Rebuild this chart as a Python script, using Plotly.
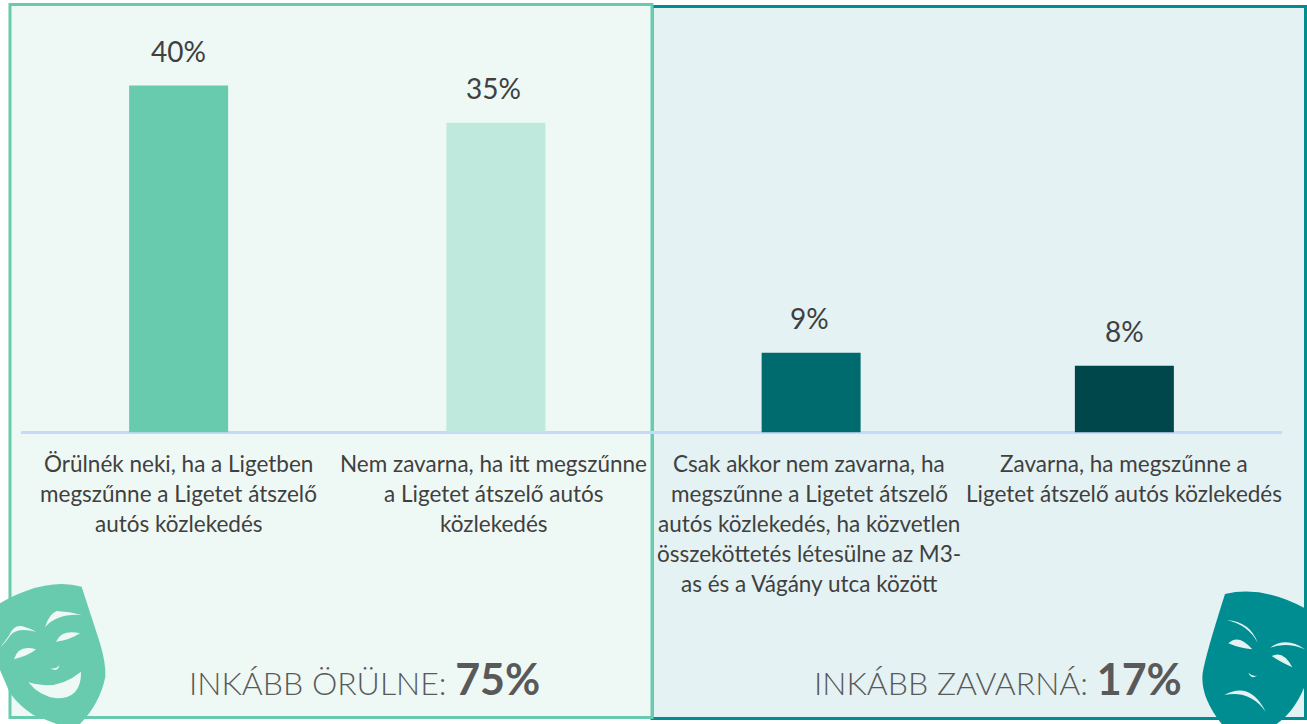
import plotly.graph_objects as go

W, H = 1307, 724
categories = ["A", "B", "C", "D"]
values = [40.0, 35.7, 9.2, 7.7]
value_labels = ["40%", "35%", "9%", "8%"]
bar_colors = ["#68CBAD", "#BEE9DC", "#006B6F", "#00474B"]
label_lines = [
    ["Örülnék neki, ha a Ligetben", "megszűnne a Ligetet átszelő", "autós közlekedés"],
    ["Nem zavarna, ha itt megszűnne", "a Ligetet átszelő autós", "közlekedés"],
    ["Csak akkor nem zavarna, ha", "megszűnne a Ligetet átszelő", "autós közlekedés, ha közvetlen",
     "összeköttetés létesülne az M3-", "as és a Vágány utca között"],
    ["Zavarna, ha megszűnne a", "Ligetet átszelő autós közlekedés"],
]
FONT = "Lato"
TXT = "#404040"
GREY = "#595959"
LEFT_BG, RIGHT_BG = "#EEF8F5", "#E4F2F3"
GREEN, TEAL = "#68CBAD", "#008D91"


def px(x):
    return x / W


def py(y):
    return 1 - y / H


def path(cmds, ox, oy, s=1 / 3):
    """cmds in zoom-crop pixels -> paper coordinates"""
    out = []
    for c in cmds:
        op, pts = c[0], c[1:]
        out.append(op + " ".join(f"{px(ox + a * s):.5f},{py(oy + b * s):.5f}" for a, b in pts))
    return " ".join(out) + " Z"


def mask(cmds, ox, oy, color):
    return dict(type="path", xref="paper", yref="paper", path=path(cmds, ox, oy),
                fillcolor=color, line=dict(width=0), layer="below")


def rect(x0, y0, x1, y1, fill, line):
    return dict(type="rect", xref="paper", yref="paper", x0=px(x0), x1=px(x1), y0=py(y0), y1=py(y1),
                fillcolor=fill, line=dict(color=line, width=3), layer="below")


happy_outline = [("M", (245, 50)), ("Q", (170, 30), (80, 62)), ("Q", (35, 78), (0, 100)), ("L", (0, 300)),
                 ("Q", (15, 335), (30, 370)), ("Q", (60, 410), (100, 435)), ("L", (170, 462)), ("L", (240, 462)),
                 ("Q", (300, 400), (316, 320)), ("Q", (318, 280), (300, 220))]
happy_holes = [
    [("M", (135, 172)), ("Q", (148, 130), (170, 123)), ("Q", (210, 125), (245, 135)), ("Q", (170, 130), (135, 172))],
    [("M", (2, 230)), ("Q", (15, 215), (28, 195)), ("Q", (40, 165), (65, 168)), ("Q", (90, 175), (108, 185)),
     ("Q", (50, 170), (30, 197)), ("Q", (15, 220), (2, 230))],
    [("M", (168, 215)), ("Q", (185, 178), (240, 190)), ("Q", (210, 210), (168, 215))],
    [("M", (42, 268)), ("Q", (55, 222), (108, 238)), ("Q", (90, 255), (42, 268))],
    [("M", (150, 295)), ("Q", (170, 298), (178, 285)), ("Q", (175, 308), (150, 295))],
    [("M", (85, 337)), ("Q", (170, 365), (243, 305)), ("Q", (245, 385), (170, 385)), ("Q", (120, 380), (85, 337))],
]
sad_outline = [("M", (135, 72)), ("Q", (250, 45), (381, 118)), ("L", (381, 330)), ("Q", (350, 420), (290, 462)),
               ("L", (125, 462)), ("Q", (60, 380), (68, 310)), ("Q", (75, 260), (135, 72))]
sad_holes = [
    [("M", (140, 150)), ("Q", (210, 155), (233, 218)), ("Q", (205, 165), (140, 150))],
    [("M", (270, 233)), ("Q", (320, 198), (375, 238)), ("Q", (320, 215), (270, 233))],
    [("M", (145, 220)), ("Q", (175, 190), (217, 238)), ("Q", (180, 235), (145, 220))],
    [("M", (275, 258)), ("Q", (310, 240), (337, 292)), ("Q", (300, 275), (275, 258))],
    [("M", (205, 308)), ("Q", (220, 322), (233, 316)), ("Q", (215, 330), (205, 308))],
    [("M", (133, 375)), ("Q", (210, 332), (257, 425)), ("Q", (210, 360), (133, 375))],
]

shapes = [
    rect(652, 6.5, 1305.5, 718.5, RIGHT_BG, TEAL),
    rect(10, 4.5, 652, 717.5, LEFT_BG, GREEN),
    mask(happy_outline, 0, 570, GREEN),
    mask(sad_outline, 1180, 570, TEAL),
]
shapes += [mask(h, 0, 570, LEFT_BG) for h in happy_holes]
shapes += [mask(h, 1180, 570, RIGHT_BG) for h in sad_holes]

BW = 0.314
nudge = 2 / 315.25
fig = go.Figure(go.Bar(x=categories, y=values, width=BW, offset=[-BW / 2, -BW / 2 + nudge, -BW / 2 + nudge, -BW / 2],
                       marker=dict(color=bar_colors, line=dict(width=0)), hoverinfo="skip"))

annotations = []
for c, v, t in zip(categories, values, value_labels):
    annotations.append(dict(x=c, y=v, xref="x", yref="y", text=t, showarrow=False, yshift=35, xanchor="center",
                            yanchor="middle", font=dict(family=FONT, size=28, color=TXT)))
for c, lines in zip(categories, label_lines):
    for i, line in enumerate(lines):
        annotations.append(dict(x=c, xref="x", y=py(463.5 + i * 29.9), yref="paper", text=line, showarrow=False,
                                xanchor="center", yanchor="middle", font=dict(family=FONT, size=22.5, color=TXT)))
annotations.append(dict(x=px(364.5), y=py(678), xref="paper", yref="paper", showarrow=False, yanchor="middle",
                        xanchor="center",
                        text='<span style="font-weight:300">INKÁBB ÖRÜLNE: </span><b style="font-size:43px">75%</b>',
                        font=dict(family=FONT, size=32, color=GREY)))
annotations.append(dict(x=px(997.5), y=py(678), xref="paper", yref="paper", showarrow=False, yanchor="middle",
                        xanchor="center",
                        text='<span style="font-weight:300">INKÁBB ZAVARNÁ: </span><b style="font-size:43px">17%</b>',
                        font=dict(family=FONT, size=32, color=GREY)))

fig.update_layout(
    width=W, height=H, margin=dict(l=0, r=0, t=0, b=0), paper_bgcolor="white", plot_bgcolor="rgba(0,0,0,0)",
    showlegend=False, shapes=shapes, annotations=annotations,
    xaxis=dict(domain=[px(21), px(1282)], range=[-0.5, 3.5], showticklabels=False, ticks="", showgrid=False,
               zeroline=False, showline=False, type="category"),
    yaxis=dict(domain=[py(432.5), 1], range=[0, 432.5 / 8.675], showticklabels=False, ticks="", showgrid=False,
               zeroline=True, zerolinecolor="#C6D9FD", zerolinewidth=3, showline=False),
)
fig.write_html("out.html", post_script="document.body.style.margin='0';document.body.style.overflow='hidden';",
               config=dict(displayModeBar=False))
